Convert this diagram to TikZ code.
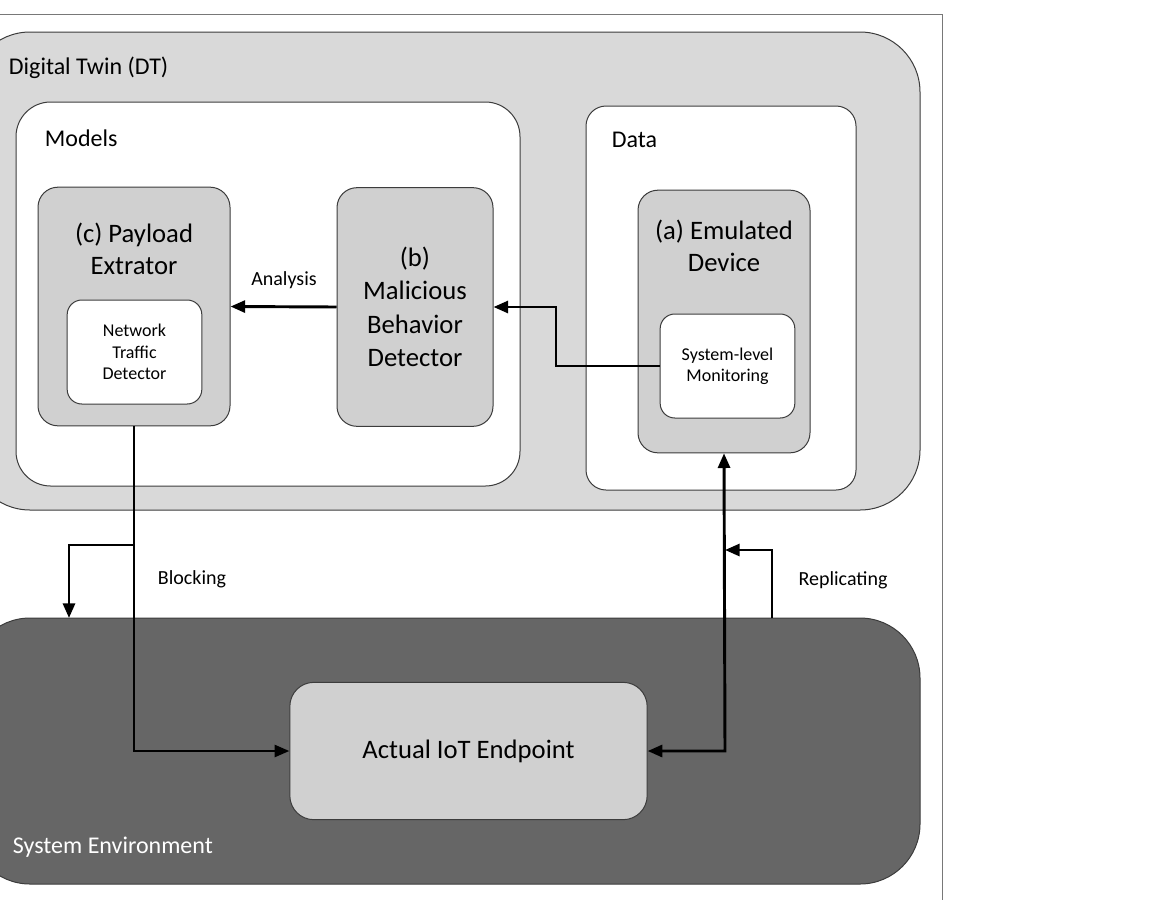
\documentclass[tikz,border=0pt]{standalone}
\usepackage{fontspec}
\setmainfont{Carlito}
\usetikzlibrary{arrows.meta}
\tikzset{every picture/.style={line width=0.75pt}}
\tikzset{
  blk/.style={draw={rgb,255:red,60;green,60;blue,60}, rounded corners=#1},
  lnk/.style={line width=2.2pt, -{Triangle[length=11pt,width=9pt]}},
}
\begin{document}
\begin{tikzpicture}[x=0.75pt,y=0.75pt,yscale=-1]
        \useasboundingbox (0,0) rectangle (1174,900);
        \clip (0,0) rectangle (1174,900);
        % frame
        \draw [color={rgb,255:red,120;green,120;blue,120}] (0,14) -- (942,14) -- (942,900);
        % boxes
        \draw [blk=45pt, fill={rgb,255:red,217;green,217;blue,217}] (-30,32) rectangle (920,510);
        \draw [blk=26pt, fill=white] (16,102) rectangle (520,486);
        \draw [blk=15pt, fill=white] (586,106) rectangle (856,490);
        \node (pay) [blk=15pt, fill={rgb,255:red,208;green,208;blue,208}, minimum width=144pt, minimum height=179pt] at (134,306.5) {};
        \node (ntd) [blk=11pt, fill=white, minimum width=101pt, minimum height=78pt, align=center, font=\fontsize{13.5}{16}\selectfont] at (134.5,352) {Network\\Traffic\\Detector};
        \node (mal) [blk=15pt, fill={rgb,255:red,208;green,208;blue,208}, minimum width=117pt, minimum height=179pt, align=center, font=\fontsize{20}{25}\selectfont] at (415,307) {(b)\\Malicious\\Behavior\\Detector};
        \node (emu) [blk=15pt, fill={rgb,255:red,208;green,208;blue,208}, minimum width=129pt, minimum height=197pt] at (724,321.5) {};
        \node (mon) [blk=11pt, fill=white, minimum width=101pt, minimum height=78pt, align=center, font=\fontsize{13.5}{16}\selectfont] at (727.5,366) {System-level\\Monitoring};
        \draw [blk=45pt, fill={rgb,255:red,102;green,102;blue,102}] (-30,618) rectangle (920,884);
        \node (iot) [blk=18pt, fill={rgb,255:red,208;green,208;blue,208}, minimum width=268pt, minimum height=103pt, font=\fontsize{20}{24}\selectfont] at (468.5,751) {Actual IoT Endpoint};
        % labels
        \node (dt) [anchor=west, font=\fontsize{18}{22}\selectfont] at (4,68) {Digital Twin (DT)};
        \node (mdl) [anchor=west, font=\fontsize{18}{22}\selectfont] at (40,138) {Models};
        \node (dat) [anchor=west, font=\fontsize{18}{22}\selectfont] at (607,140) {Data};
        \node (se) [anchor=west, white, font=\fontsize{18}{22}\selectfont] at (8,847) {System Environment};
        \node [align=center, font=\fontsize{20}{24}\selectfont] at (134,249) {(c) Payload\\Extrator};
        \node [align=center, font=\fontsize{20}{24}\selectfont] at (724,246) {(a) Emulated\\Device};
        \node (ana) [font=\fontsize{15}{18}\selectfont] at (284,280) {Analysis};
        \node (blo) [font=\fontsize{15}{18}\selectfont] at (192,579) {Blocking};
        \node (rep) [font=\fontsize{15}{18}\selectfont] at (843,580) {Replicating};
        % connectors
        \coordinate (bk) at (134,545);
        \coordinate (rp) at (725,550);
        \draw [lnk] (mal.west) -- (pay.east);
        \draw [lnk] (mon.west) -- (556,366) -- (556,307) -- (mal.east);
        \draw [lnk, line width=1.8pt] (pay.south) -- (134,751) -- (iot.west);
        \draw [lnk] (bk) -- (69,545) -- (69,618);
        \draw [lnk, {Triangle[length=11pt,width=9pt]}-{Triangle[length=11pt,width=9pt]}] (iot.east) -- (725,751) -- (emu.south);
        \draw [lnk] (772,618) -- (772,550) -- (rp);
    \end{tikzpicture}
\end{document}
